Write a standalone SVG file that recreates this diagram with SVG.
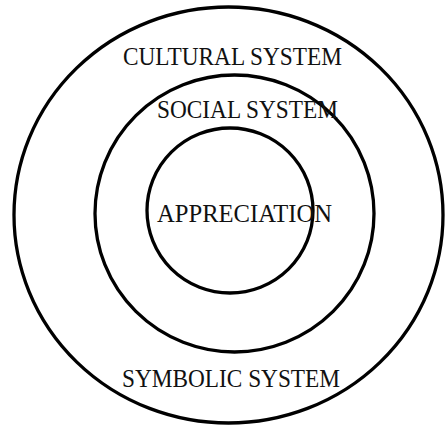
<svg xmlns="http://www.w3.org/2000/svg" width="446" height="427" viewBox="0 0 446 427">
<style>
.ring{fill:none;stroke:#000;stroke-width:3.3}
.lbl{font-family:"Liberation Serif","Times New Roman",serif;font-size:25px;fill:#111}
</style>
<rect width="446" height="427" fill="#fff"/>
<g id="cultural">
<ellipse class="ring" cx="228.5" cy="215" rx="214.5" ry="208"/>
<text class="lbl" x="123" y="65" textLength="219" lengthAdjust="spacingAndGlyphs">CULTURAL SYSTEM</text>
</g>
<g id="social">
<ellipse class="ring" cx="234.5" cy="213.5" rx="139.5" ry="138.5"/>
<text class="lbl" x="157" y="118" textLength="181" lengthAdjust="spacingAndGlyphs">SOCIAL SYSTEM</text>
</g>
<g id="appreciation">
<ellipse class="ring" cx="230" cy="210.5" rx="83" ry="82.5"/>
<text class="lbl" x="157" y="222" textLength="175" lengthAdjust="spacingAndGlyphs">APPRECIATION</text>
</g>
<g id="symbolic">
<text class="lbl" x="122" y="387" textLength="218" lengthAdjust="spacingAndGlyphs">SYMBOLIC SYSTEM</text>
</g>
<g id="connectors"></g>
</svg>
